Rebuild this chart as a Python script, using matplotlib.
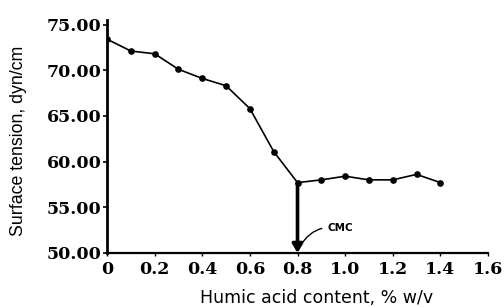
import matplotlib.pyplot as plt

# Humic acid content (% w/v) vs surface tension (dyn/cm)
content = [0.0, 0.1, 0.2, 0.3, 0.4, 0.5, 0.6, 0.7, 0.8, 0.9, 1.0, 1.1, 1.2, 1.3, 1.4]
tension = [73.4, 72.1, 71.8, 70.1, 69.1, 68.3, 65.8, 61.1, 57.7, 58.0, 58.4, 58.0, 58.0, 58.6, 57.7]
cmc = 0.8
cmc_tension = 57.7

xticks = [0, 0.2, 0.4, 0.6, 0.8, 1.0, 1.2, 1.4, 1.6]
xticklabels = ["0", "0.2", "0.4", "0.6", "0.8", "1.0", "1.2", "1.4", "1.6"]
yticks = [50, 55, 60, 65, 70, 75]

fig = plt.figure(figsize=(5.04, 3.07), dpi=100)
ax = fig.add_axes([0.2123, 0.176, 0.756, 0.759])

ax.plot(content, tension, color="black", lw=1.2, marker="o", ms=3.8, zorder=3)

# CMC marker arrow
ax.annotate("", xy=(cmc, 50.0), xytext=(cmc, cmc_tension),
            arrowprops=dict(arrowstyle="-|>,head_width=0.3,head_length=0.5",
                            color="black", lw=2.6, shrinkA=0, shrinkB=0),
            annotation_clip=False, zorder=4)
ax.annotate("CMC", xy=(cmc + 0.012, 50.8), xytext=(0.925, 52.7),
            fontsize=7.5, fontweight="bold", family="DejaVu Sans",
            va="center", ha="left",
            arrowprops=dict(arrowstyle="-", color="black", lw=1.0,
                            connectionstyle="arc3,rad=0.35",
                            shrinkA=2, shrinkB=0))

ax.set_xlim(0, 1.6)
ax.set_ylim(50, 75.5)
ax.set_xticks(xticks)
ax.set_xticklabels(xticklabels)
ax.set_yticks(yticks)
ax.set_yticklabels([f"{v:.2f}" for v in yticks])

for lab in ax.get_xticklabels() + ax.get_yticklabels():
    lab.set_family("DejaVu Serif")
    lab.set_fontweight("bold")
    lab.set_fontsize(12.5)

ax.spines["top"].set_visible(False)
ax.spines["right"].set_visible(False)
ax.spines["left"].set_linewidth(2.0)
ax.spines["bottom"].set_linewidth(1.6)
ax.tick_params(axis="y", direction="out", length=3, width=1.2, pad=1)
ax.tick_params(axis="x", direction="out", length=2.5, width=1.0, pad=3)

ax.set_xlabel("Humic acid content, % w/v", fontsize=12.5, family="DejaVu Sans")
ax.set_ylabel("Surface tension, dyn/cm", fontsize=12.8, family="Liberation Sans")
ax.xaxis.set_label_coords(0.55, -0.155)
ax.yaxis.set_label_coords(-0.21, 0.48)

fig.savefig("out.png", dpi=100)
